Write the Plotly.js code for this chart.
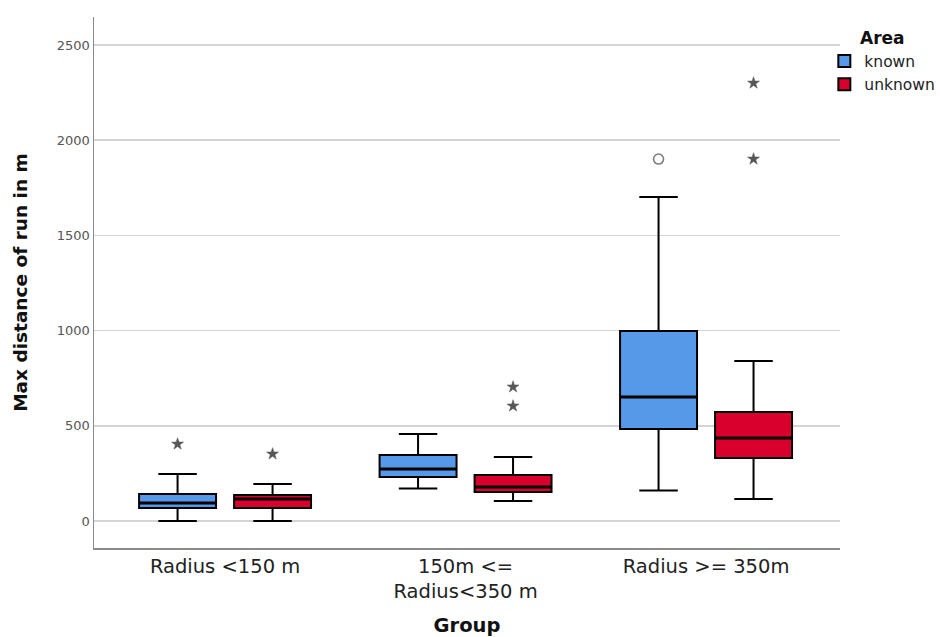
<!DOCTYPE html>
<html>
<head>
<meta charset="utf-8">
<script src="https://cdn.plot.ly/plotly-3.0.1.min.js"></script>
<style>html,body{margin:0;padding:0;background:#fff;}#chart{width:940px;height:637px;}</style>
</head>
<body>
<div id="chart"></div>
<script>
// ---- data ----
const categories = ["Radius <150 m", "150m <=<br>Radius<350 m", "Radius >= 350m"];
const seriesNames = ["known", "unknown"];

const knownLower  = [0, 170, 160];
const knownQ1     = [68, 231, 483];
const knownMedian = [95, 273, 651];
const knownQ3     = [142, 347, 998];
const knownUpper  = [247, 457, 1702];

const unknownLower  = [0, 105, 115];
const unknownQ1     = [68, 152, 331];
const unknownMedian = [116, 179, 436];
const unknownQ3     = [137, 242, 572];
const unknownUpper  = [194, 336, 840];

// outliers: group index, value, type ("o" = outlier circle, "*" = extreme star)
const knownOutGroup = [0, 2];
const knownOutValue = [404, 1901];
const knownOutType  = ["*", "o"];

const unknownOutGroup = [0, 1, 1, 2, 2];
const unknownOutValue = [352, 604, 704, 1901, 2300];
const unknownOutType  = ["*", "*", "*", "*", "*"];

const yTicks = [0, 500, 1000, 1500, 2000, 2500];

// ---- styling ----
const colors = ["#5599e8", "#d9002d"];
const shift = 0.1975;
const boxWidth = 0.32;
const font = "DejaVu Sans, sans-serif";

function offsetOf(i) { return i === 0 ? -shift : shift; }

function boxTrace(i, lower, q1, med, q3, upper) {
  const off = offsetOf(i);
  return {
    type: "box",
    name: seriesNames[i],
    x: categories.map((c, k) => k + off),
    lowerfence: lower, q1: q1, median: med, q3: q3, upperfence: upper,
    width: boxWidth,
    whiskerwidth: 0.5,
    boxpoints: false,
    fillcolor: colors[i],
    line: { color: "#000", width: 2 },
    hoverinfo: "y"
  };
}
function medianTrace(i, med) {
  const off = offsetOf(i);
  const xs = [], ys = [];
  med.forEach((m, k) => {
    xs.push(k + off - boxWidth / 2, k + off + boxWidth / 2, null);
    ys.push(m, m, null);
  });
  return {
    type: "scatter", mode: "lines", showlegend: false, hoverinfo: "skip",
    x: xs, y: ys, line: { color: "#000", width: 3 }
  };
}
function outTrace(i, groups, vals, types) {
  const off = offsetOf(i);
  return {
    type: "scatter", mode: "markers", showlegend: false,
    x: groups.map(g => g + off), y: vals,
    marker: {
      symbol: types.map(t => t === "o" ? "circle-open" : "star"),
      size: types.map(t => t === "o" ? 10 : 9),
      color: types.map(t => t === "o" ? "#444" : "#111"),
      line: { color: types.map(t => t === "o" ? "#444" : "#111"), width: types.map(t => t === "o" ? 1.6 : 0.5) }
    },
    hoverinfo: "y"
  };
}

const data = [
  boxTrace(0, knownLower, knownQ1, knownMedian, knownQ3, knownUpper),
  boxTrace(1, unknownLower, unknownQ1, unknownMedian, unknownQ3, unknownUpper),
  medianTrace(0, knownMedian),
  medianTrace(1, unknownMedian),
  outTrace(0, knownOutGroup, knownOutValue, knownOutType),
  outTrace(1, unknownOutGroup, unknownOutValue, unknownOutType)
];

const layout = {
  width: 940, height: 637,
  margin: { l: 94, r: 100, t: 17, b: 89, autoexpand: false },
  paper_bgcolor: "#fff", plot_bgcolor: "#fff",
  font: { family: font, color: "#222" },
  boxmode: "overlay",
  showlegend: true,
  legend: {
    x: 0.979, xanchor: "left", y: 0.99, yanchor: "top",
    bgcolor: "rgba(0,0,0,0)",
    title: { text: "<b>Area</b>", side: "top center", font: { size: 17, color: "#111" } },
    font: { size: 15.5, color: "#222" },
    tracegroupgap: 0, itemwidth: 30
  },
  xaxis: {
    range: [-0.545, 2.557],
    tickvals: categories.map((c, k) => k),
    ticktext: categories,
    tickfont: { size: 19.5, color: "#222" },
    showgrid: false, zeroline: false,
    showline: true, linecolor: "#8a8a8a", linewidth: 1.5,
    ticks: "", ticklen: 0,
    title: { text: "<b>Group</b>", font: { size: 19.5, color: "#111" }, standoff: 20 }
  },
  yaxis: {
    range: [-142, 2647],
    tickvals: yTicks,
    tickfont: { size: 13, color: "#555" },
    showgrid: true, gridcolor: "#d4d4d4", gridwidth: 1.5,
    zeroline: false,
    showline: true, linecolor: "#8a8a8a", linewidth: 1.5,
    ticks: "",
    title: { text: "<b>Max distance of run in m</b>", font: { size: 18.5, color: "#111" }, standoff: 24 }
  }
};

Plotly.newPlot("chart", data, layout, { displayModeBar: false, staticPlot: true });
</script>
</body>
</html>
